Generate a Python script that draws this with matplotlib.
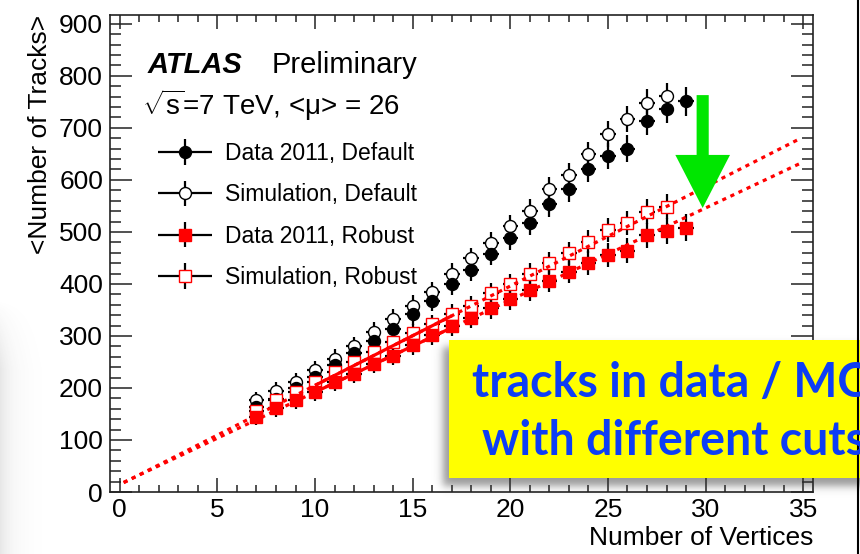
import numpy as np
import matplotlib
matplotlib.use("Agg")
import matplotlib.pyplot as plt
from matplotlib.legend_handler import HandlerErrorbar
from matplotlib.patches import Rectangle, Polygon
from matplotlib.container import ErrorbarContainer

plt.rcParams['font.family'] = ['Liberation Sans', 'DejaVu Sans']
plt.rcParams['mathtext.fontset'] = 'custom'
plt.rcParams['mathtext.rm'] = 'Liberation Sans'
plt.rcParams['mathtext.it'] = 'Liberation Sans:italic'

# ---------------- data ----------------
nvtx_data = list(range(7, 30))
nvtx_sim = list(range(7, 29))

tracks_data_default = [163, 178, 200, 221, 245, 267, 291, 314, 342, 368, 400, 427,
                       458, 488, 518, 553, 582, 620, 646, 660, 713, 737, 751]
tracks_sim_default = [176, 195, 211, 234, 256, 280, 307, 333, 358, 384, 419, 449,
                      478, 511, 540, 582, 609, 649, 688, 717, 748, 761]
tracks_data_robust = [144, 161, 176, 192, 211, 227, 246, 262, 282, 301, 319, 335,
                      353, 371, 388, 406, 423, 441, 456, 464, 494, 502, 508]
tracks_sim_robust = [155, 176, 192, 211, 230, 250, 269, 288, 305, 323, 342, 358,
                     382, 400, 419, 441, 459, 481, 503, 518, 539, 548]

err_data_default = [17, 17, 18, 18, 18, 19, 19, 20, 20, 21, 21, 22, 22, 23, 23, 24,
                    24, 25, 25, 26, 27, 27, 28]
err_sim_default = [16, 16, 17, 17, 18, 18, 19, 19, 20, 20, 21, 21, 22, 22, 23, 23,
                   24, 24, 25, 25, 26, 26]
err_data_robust = [16, 16, 16, 17, 17, 17, 18, 18, 18, 19, 19, 20, 20, 21, 21, 22,
                   22, 23, 23, 24, 24, 25, 26]
err_sim_robust = [15, 15, 16, 16, 16, 17, 17, 17, 18, 18, 19, 19, 20, 20, 21, 21,
                  22, 22, 23, 23, 24, 24]

# linear fits (robust): [simulation, data]
fit_intercepts = [14.0, 15.0]
fit_slopes = [19.1, 17.7]
fit_range = [10, 17]
extrap_range = [0.2, 34.8]

# annotation arrow (data coordinates)
arrow_x = 29.85
arrow_top = 763
arrow_head_base = 648
arrow_tip = 546

series_labels = ["Data 2011, Default", "Simulation, Default",
                 "Data 2011, Robust", "Simulation, Robust"]

# ---------------- figure ----------------
W, H = 860, 554
fig = plt.figure(figsize=(W / 100, H / 100), dpi=100)
fig.patch.set_facecolor('white')

# background shading on left edge
bg = fig.add_axes([0, 0, 1, 1], zorder=-5)
bg.set_axis_off()
xx = np.arange(W) + 0.5
yy = np.arange(H) + 0.5
shade = 0.13 * np.exp(-xx[None, :] / 12.0) * np.clip((yy[:, None] - 300) / 70.0, 0, 1)
rgba = np.zeros((H, W, 4))
rgba[..., :3] = 0.25
rgba[..., 3] = shade
bg.imshow(rgba, extent=(0, W, H, 0), aspect='auto', interpolation='bilinear')
bg.set_xlim(0, W)
bg.set_ylim(H, 0)

ax = fig.add_axes([110 / W, 1 - 492 / H, 703 / W, 477 / H])
ax.set_xlim(-0.5, 35.5)
ax.set_ylim(0, 917)

mk = 8.6
eb_kw = dict(ls='none', capsize=0, ecolor='black', elinewidth=1.6, xerr=0.4)
h_sd = ax.errorbar(nvtx_sim, tracks_sim_default, yerr=err_sim_default, marker='o', ms=mk,
                   mfc='white', mec='black', mew=1.0, label=series_labels[1], zorder=3, **eb_kw)
h_dd = ax.errorbar(nvtx_data, tracks_data_default, yerr=err_data_default, marker='o', ms=mk,
                   mfc='black', mec='black', label=series_labels[0], zorder=3, **eb_kw)
h_sr = ax.errorbar(nvtx_sim, tracks_sim_robust, yerr=err_sim_robust, marker='s', ms=mk,
                   mfc='white', mec='red', mew=1.0, label=series_labels[3], zorder=4, **eb_kw)
h_dr = ax.errorbar(nvtx_data, tracks_data_robust, yerr=err_data_robust, marker='s', ms=mk,
                   mfc='red', mec='red', label=series_labels[2], zorder=4, **eb_kw)

# fit lines: dotted extrapolation and solid fit range
for a, b in zip(fit_intercepts, fit_slopes):
    xe = np.array(extrap_range)
    ax.plot(xe, a + b * xe, color='red', lw=2.3, ls=(0, (1.3, 1.5)), zorder=5)
    xf = np.array(fit_range)
    ax.plot(xf, a + b * xf, color='red', lw=2.3, ls='-', zorder=5, solid_capstyle='butt')

# green arrow
sw, hw = 0.31, 1.4
arrow = Polygon([[arrow_x - sw, arrow_top], [arrow_x - sw, arrow_head_base],
                 [arrow_x - hw, arrow_head_base], [arrow_x, arrow_tip],
                 [arrow_x + hw, arrow_head_base], [arrow_x + sw, arrow_head_base],
                 [arrow_x + sw, arrow_top]], closed=True, facecolor='#00E600',
                edgecolor='none', zorder=6)
ax.add_patch(arrow)

# axes style (ROOT-like)
ax.set_xticks(np.arange(0, 36, 5))
ax.set_xticks(np.arange(0, 36, 1), minor=True)
ax.set_yticks(np.arange(0, 901, 100))
ax.set_yticks(np.arange(0, 901, 20), minor=True)
ax.tick_params(axis='both', which='both', direction='in', top=True, right=True,
               width=1.1, color='#222222', labelsize=19)
ax.tick_params(axis='x', which='major', length=10, pad=4)
ax.tick_params(axis='x', which='minor', length=5)
ax.tick_params(axis='y', which='major', length=16, pad=5)
ax.tick_params(axis='y', which='minor', length=8)
for s in ax.spines.values():
    s.set_linewidth(1.2)
    s.set_color('#222222')

ax.set_xlabel("Number of Vertices", fontsize=19, loc='right')
ax.xaxis.set_label_coords(1.0, -0.072)
ax.set_ylabel("<Number of Tracks>", fontsize=19, loc='top')
ax.yaxis.set_label_coords(-0.083, 1.0)

# texts
fig.text(148 / W, 1 - 73 / H, "ATLAS", fontsize=21, fontweight='bold', style='italic',
         va='baseline', ha='left')
fig.text(272 / W, 1 - 73 / H, "Preliminary", fontsize=21, va='baseline', ha='left')
fig.text(142 / W, 1 - 115 / H, r"$\sqrt{\mathrm{s}}$=7 TeV, <μ> = 26", fontsize=20,
         va='baseline', ha='left')

# legend
leg = ax.legend([h_dd, h_sd, h_dr, h_sr], series_labels, loc='upper left',
                bbox_to_anchor=(158 / W, 1 - 142 / H), bbox_transform=fig.transFigure,
                frameon=False, fontsize=16.5, handlelength=2.36, handletextpad=0.55,
                labelspacing=0.80, borderpad=0, borderaxespad=0,
                handler_map={ErrorbarContainer: HandlerErrorbar(xerr_size=1.18, yerr_size=0.55)})

# overlay (slide decorations)
ov = fig.add_axes([0, 0, 1, 1], zorder=10)
ov.set_axis_off()
ov.set_xlim(0, W)
ov.set_ylim(H, 0)
ov.plot([858, 858], [0, H], color='black', lw=1.5)


def soft(v, a, b, s):
    return 0.5 * (np.tanh((v - a) / s) - np.tanh((v - b) / s))


sh = 0.5 * soft(xx, 443, 960, 5)[None, :] * soft(yy, 347, 486, 5)[:, None]
srgba = np.zeros((H, W, 4))
srgba[..., :3] = 0.2
srgba[..., 3] = sh
ov.imshow(srgba, extent=(0, W, H, 0), aspect='auto', interpolation='bilinear')
ov.set_xlim(0, W)
ov.set_ylim(H, 0)
ov.add_patch(Rectangle((449, 340), 430, 138, facecolor='#FFFF00', edgecolor='none'))
ov.text(472, 397, "tracks in data / MC", fontsize=33.5, fontweight='bold',
        family=['Lato', 'DejaVu Sans'], color='#0D3DF5', va='baseline', ha='left')
ov.text(482, 455, "with different cuts", fontsize=33.5, fontweight='bold',
        family=['Lato', 'DejaVu Sans'], color='#0D3DF5', va='baseline', ha='left')

fig.savefig("out.png", dpi=100)
